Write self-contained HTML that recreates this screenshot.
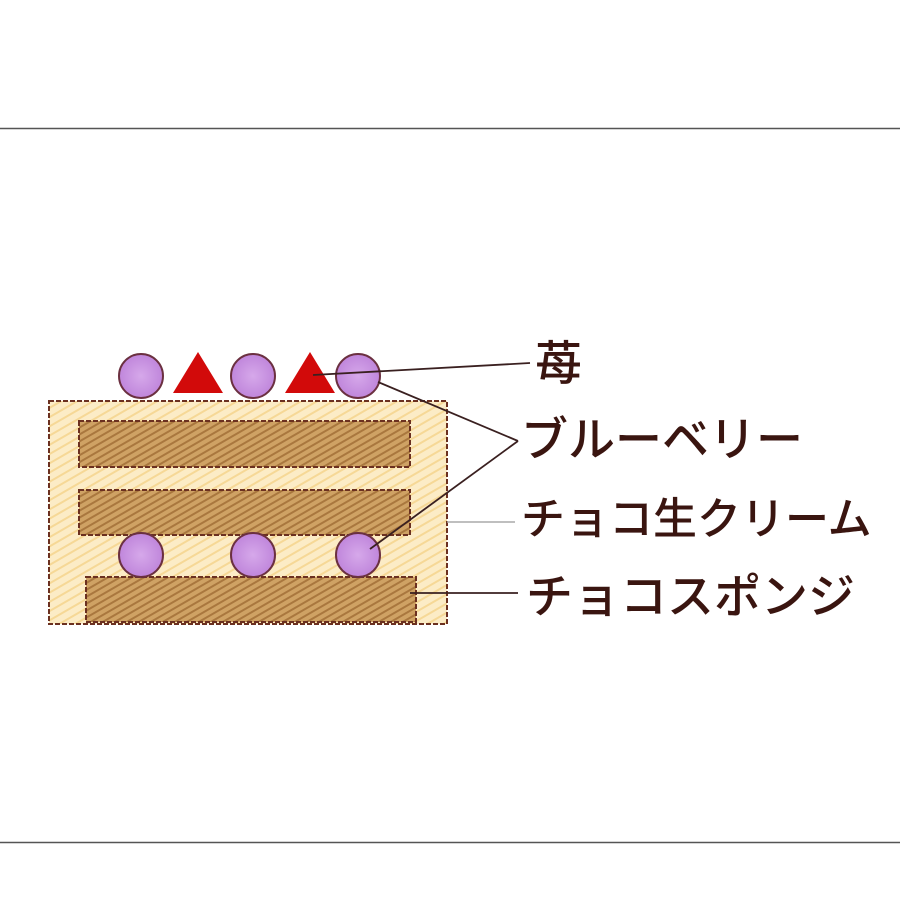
<!DOCTYPE html>
<html><head><meta charset="utf-8"><style>
body{margin:0;width:900px;height:900px;background:#fff;overflow:hidden;position:relative;font-family:"Liberation Sans","Noto Sans CJK JP",sans-serif}
.t{position:absolute;color:#3a1510;font-weight:500;white-space:nowrap;line-height:1}
</style></head><body>
<svg width="900" height="900" style="position:absolute;left:0;top:0">
<defs>
<pattern id="cr" width="8" height="8" patternUnits="userSpaceOnUse" patternTransform="rotate(-30)"><rect width="8" height="8" fill="#fcecc6"/><line x1="0" y1="2" x2="8" y2="2" stroke="#f6d896" stroke-width="2"/></pattern>
<pattern id="br" width="6" height="6" patternUnits="userSpaceOnUse" patternTransform="rotate(-30)"><rect width="6" height="6" fill="#cfa264"/><line x1="0" y1="2" x2="6" y2="2" stroke="#a9773e" stroke-width="2"/></pattern>
<radialGradient id="bb" cx="0.5" cy="0.5" r="0.6"><stop offset="0" stop-color="#d6a8ea"/><stop offset="1" stop-color="#bb7fd8"/></radialGradient>
</defs>
<line x1="0" y1="128.5" x2="900" y2="128.5" stroke="#555" stroke-width="1.5"/>
<line x1="0" y1="842.5" x2="900" y2="842.5" stroke="#555" stroke-width="1.5"/>
<rect x="49" y="401" width="398" height="223" fill="url(#cr)" stroke="#6b3020" stroke-width="2" stroke-dasharray="5 2"/>
<g fill="url(#br)" stroke="#6b3020" stroke-width="2" stroke-dasharray="5 2">
<rect x="79" y="421" width="331" height="46"/>
<rect x="79" y="490" width="331" height="45"/>
<rect x="86" y="577" width="330" height="45"/>
</g>
<g fill="url(#bb)" stroke="#6b3040" stroke-width="2">
<circle cx="141" cy="376" r="22"/><circle cx="253" cy="376" r="22"/><circle cx="358" cy="376" r="22"/>
<circle cx="141" cy="555" r="22"/><circle cx="253" cy="555" r="22"/><circle cx="358" cy="555" r="22"/>
</g>
<polygon points="173,393 198,352 223,393" fill="#d20a0a"/>
<polygon points="285,393 310,352 335,393" fill="#d20a0a"/>
<g stroke="#3a2020" stroke-width="1.8" fill="none">
<line x1="313" y1="375" x2="530" y2="363"/>
<line x1="378" y1="382" x2="518" y2="441"/>
<line x1="370" y1="549" x2="518" y2="441"/>
<line x1="410" y1="593" x2="518" y2="593"/>
</g>
<line x1="447" y1="522" x2="515" y2="522" stroke="#aaa" stroke-width="1.5"/>
</svg>
<div class="t" style="left:535px;top:340px;font-size:47px">苺</div>
<div class="t" style="left:521px;top:416px;font-size:47px">ブルーベリー</div>
<div class="t" style="left:521px;top:498px;font-size:44px">チョコ生クリーム</div>
<div class="t" style="left:526px;top:573px;font-size:47px">チョコスポンジ</div>
</body></html>
